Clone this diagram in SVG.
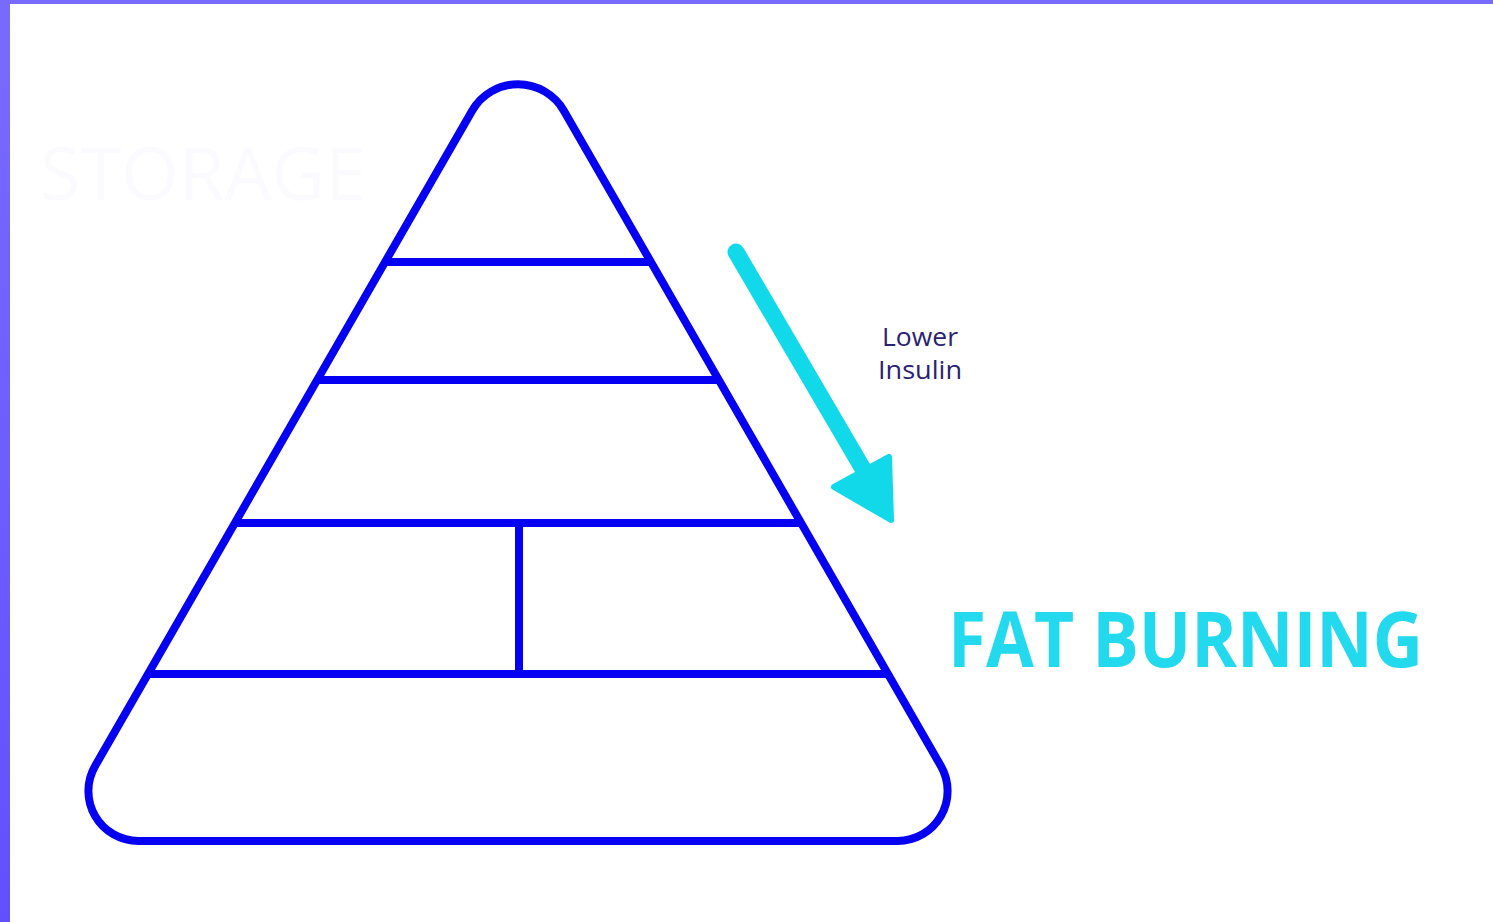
<svg xmlns="http://www.w3.org/2000/svg" width="1493" height="922" viewBox="0 0 1493 922">
<defs>
<style>
.py{fill:none;stroke:#0600f2;stroke-width:8;stroke-linejoin:round;stroke-linecap:butt}
.lbl{font-family:"Open Sans","Noto Sans",sans-serif;font-size:25px;fill:#2b2270;text-anchor:middle}
.big{font-family:"Open Sans","Noto Sans",sans-serif;font-weight:bold;font-size:77px;fill:#22d9ee}
</style>
<linearGradient id="lg" x1="0" y1="0" x2="0" y2="1">
<stop offset="0" stop-color="#7a6bff"/>
<stop offset="1" stop-color="#6250ff"/>
</linearGradient>
</defs>
<rect x="0" y="0" width="1493" height="922" fill="#ffffff"/>
<rect x="0" y="0" width="10" height="922" fill="url(#lg)"/>
<rect x="0" y="0" width="1493" height="4" fill="#7a6bff"/>
<text x="40" y="200" font-family="'Open Sans',sans-serif" font-size="74" fill="#fbfaff">STORAGE</text>
<g id="pyramid">
<path class="py" d="M472,110.9 A53,53 0 0 1 564,110.9 L940.9,766 A50,50 0 0 1 897.5,841 L138.5,841 A50,50 0 0 1 95.1,766 Z"/>
</g>
<g id="tiers">
<line class="py" x1="385" y1="262" x2="651" y2="262"/>
<line class="py" x1="317" y1="380" x2="719" y2="380"/>
<line class="py" x1="235" y1="523" x2="801" y2="523"/>
<line class="py" x1="148" y1="674" x2="888" y2="674"/>
<line class="py" x1="519" y1="523" x2="519" y2="674"/>
</g>
<g id="connectors">
<line x1="736" y1="252" x2="866" y2="474" stroke="#12d9e9" stroke-width="17" stroke-linecap="round"/>
<path d="M834,487 L889,457 L891,520 Z" fill="#12d9e9" stroke="#12d9e9" stroke-width="6" stroke-linejoin="round"/>
</g>
<g id="label-insulin">
<text class="lbl" x="920" y="346" textLength="76" lengthAdjust="spacingAndGlyphs">Lower</text>
<text class="lbl" x="920" y="379" textLength="84" lengthAdjust="spacingAndGlyphs">Insulin</text>
</g>
<g id="label-fat">
<text class="big" x="948" y="667" textLength="475" lengthAdjust="spacingAndGlyphs">FAT BURNING</text>
</g>
</svg>
